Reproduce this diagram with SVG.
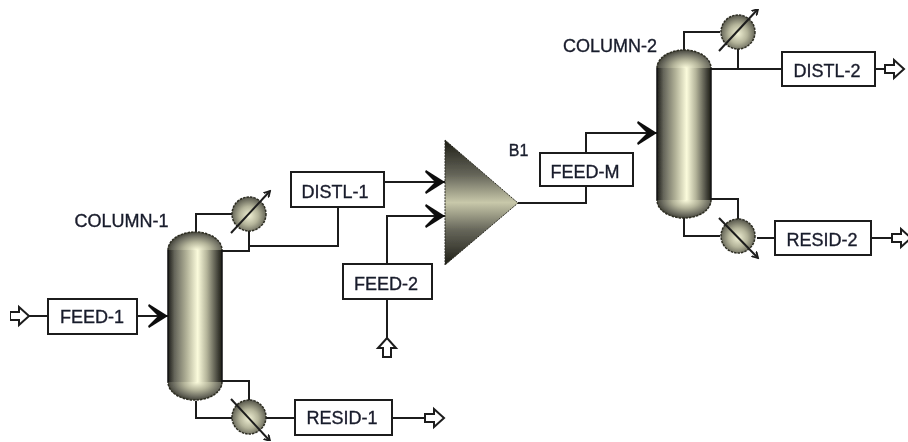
<svg xmlns="http://www.w3.org/2000/svg" xmlns:xlink="http://www.w3.org/1999/xlink" width="908" height="442" viewBox="0 0 908 442">
<style>
.c{fill:none;stroke:#1c1c1c;stroke-width:2}
.box{fill:#fff;stroke:#1c1c1c;stroke-width:2}
.t{font-family:"Liberation Sans",Arial,sans-serif;font-size:18px;fill:#1a1c2c;stroke:#1a1c2c;stroke-width:.35;text-anchor:middle}
.open{fill:#fff;stroke:#1c1c1c;stroke-width:2}
.edge{stroke:#2e2e24;stroke-width:1.500;stroke-dasharray:2.500 1}
.diag{fill:none;stroke:#1c1c1c;stroke-width:2}
</style>
<defs>
<filter id="soft" x="0" y="0" width="100%" height="100%"><feGaussianBlur stdDeviation=".45"/></filter>
<linearGradient id="body" x1="0" y1="0" x2="1" y2="0">
<stop offset="0" stop-color="#1c1c16"/><stop offset=".12" stop-color="#65655a"/><stop offset=".35" stop-color="#b4b49a"/><stop offset=".55" stop-color="#fbfbdc"/><stop offset=".72" stop-color="#b4b49a"/><stop offset=".9" stop-color="#505046"/><stop offset="1" stop-color="#1c1c16"/>
</linearGradient>
<radialGradient id="domeT" gradientUnits="userSpaceOnUse" cx="0" cy="0" r="1" gradientTransform="translate(29 18) scale(29 18)">
<stop offset="0" stop-color="#fbfbdc"/><stop offset=".45" stop-color="#b4b49a"/><stop offset=".85" stop-color="#65655a"/><stop offset="1" stop-color="#45453a"/>
</radialGradient>
<radialGradient id="domeB" gradientUnits="userSpaceOnUse" cx="0" cy="0" r="1" gradientTransform="translate(29 150) scale(29 18)">
<stop offset="0" stop-color="#fbfbdc"/><stop offset=".45" stop-color="#b4b49a"/><stop offset=".85" stop-color="#65655a"/><stop offset="1" stop-color="#45453a"/>
</radialGradient>
<radialGradient id="hx" cx=".5" cy=".55" r=".55">
<stop offset="0" stop-color="#f0f0d4"/><stop offset=".5" stop-color="#b4b49a"/><stop offset="1" stop-color="#55554a"/>
</radialGradient>
<linearGradient id="tri" x1="0" y1="0" x2="0" y2="1">
<stop offset="0" stop-color="#1e1e16"/><stop offset=".28" stop-color="#66665a"/><stop offset=".5" stop-color="#c8c8aa"/><stop offset=".72" stop-color="#66665a"/><stop offset="1" stop-color="#1e1e16"/>
</linearGradient>
<marker id="head" markerUnits="userSpaceOnUse" markerWidth="22" markerHeight="26" refX="20" refY="12" orient="auto">
<path d="M1 0L20 12L1 24L0 22L10 12L0 2Z" fill="#111"/>
</marker>
<marker id="headThin" markerUnits="userSpaceOnUse" markerWidth="8" markerHeight="8" refX="6" refY="4" orient="auto">
<path d="M0 .5L6 4L0 7.500" fill="none" stroke="#1c1c1c" stroke-width="1.800"/>
</marker>
<path id="openR" class="open" d="M0-4H9V-9L19 0L9 9V4H0Z"/>
<g id="column">
<path d="M0 18A27 18 0 0 1 54 18V150A27 18 0 0 1 0 150Z" fill="url(#body)"/>
<path d="M0 18A27 18 0 0 1 54 18Z" fill="url(#domeT)"/>
<path d="M0 150A27 18 0 0 0 54 150Z" fill="url(#domeB)"/>
<path d="M0 18A27 18 0 0 1 54 18M54 150A27 18 0 0 1 0 150" fill="none" class="edge"/>
<path d="M0 18V150M54 18V150" stroke="#161612" stroke-width="1.500" fill="none"/>
</g>
<g id="hxShell">
<circle r="17" fill="url(#hx)" class="edge"/>
</g>
</defs>
<g filter="url(#soft)">
<g id="connectors">
<path class="c" d="M29 316H48"/>
<path class="c" d="M137 316H168" marker-end="url(#head)"/>
<path class="c" d="M196 232V214H232"/>
<path class="c" d="M222 251H249V231"/>
<path class="c" d="M250 246H338V207"/>
<path class="c" d="M222 381H249V400"/>
<path class="c" d="M196 401V418H232"/>
<path class="c" d="M266 418H295"/>
<path class="c" d="M392 418H425"/>
<path class="c" d="M384 182H445" marker-end="url(#head)"/>
<path class="c" d="M387 264V216H445" marker-end="url(#head)"/>
<path class="c" d="M387 299V338"/>
<path class="c" d="M518 203H586V186"/>
<path class="c" d="M586 153V133H657" marker-end="url(#head)"/>
<path class="c" d="M684 50V32H720"/>
<path class="c" d="M738 49V69"/>
<path class="c" d="M711 69H782"/>
<path class="c" d="M875 69H885"/>
<path class="c" d="M711 199H738V219"/>
<path class="c" d="M684 218V236H720"/>
<path class="c" d="M757 238H775"/>
<path class="c" d="M871 238H891"/>
<use xlink:href="#openR" href="#openR" x="10" y="316"/>
<use xlink:href="#openR" href="#openR" x="425" y="418"/>
<use xlink:href="#openR" href="#openR" x="885" y="69"/>
<use xlink:href="#openR" href="#openR" x="892" y="238"/>
<use xlink:href="#openR" href="#openR" transform="translate(387 357) rotate(-90)"/>
</g>
<g id="COLUMN-1">
<use xlink:href="#column" href="#column" x="168" y="232"/>
<text class="t" x="121.500" y="227">COLUMN-1</text>
</g>
<g id="COND-1">
<use xlink:href="#hxShell" href="#hxShell" x="249" y="214"/>
<path class="diag" d="M231 233L270 191" marker-end="url(#headThin)"/>
</g>
<g id="REB-1">
<use xlink:href="#hxShell" href="#hxShell" x="249" y="417"/>
<path class="diag" d="M231 399L270 441" marker-end="url(#headThin)"/>
</g>
<g id="FEED-1">
<rect class="box" x="48" y="299" width="89" height="35"/>
<text class="t" x="92" y="323">FEED-1</text>
</g>
<g id="RESID-1">
<rect class="box" x="295" y="400" width="97" height="35"/>
<text class="t" x="342" y="424">RESID-1</text>
</g>
<g id="DISTL-1">
<rect class="box" x="291" y="172" width="93" height="35"/>
<text class="t" x="335" y="198">DISTL-1</text>
</g>
<g id="FEED-2">
<rect class="box" x="343" y="264" width="89" height="35"/>
<text class="t" x="386" y="290">FEED-2</text>
</g>
<g id="B1">
<path d="M445 140L518 203L445 265Z" fill="url(#tri)" stroke="#2a2a20" stroke-width="1" stroke-dasharray="2 1"/>
<text class="t" x="518.500" y="156" style="font-size:16px">B1</text>
</g>
<g id="FEED-M">
<rect class="box" x="540" y="153" width="93" height="33"/>
<text class="t" x="585" y="178">FEED-M</text>
</g>
<g id="COLUMN-2">
<use xlink:href="#column" href="#column" x="657" y="50"/>
<text class="t" x="610" y="52">COLUMN-2</text>
</g>
<g id="COND-2">
<use xlink:href="#hxShell" href="#hxShell" x="738" y="32"/>
<path class="diag" d="M719 51L758 9" marker-end="url(#headThin)"/>
</g>
<g id="REB-2">
<use xlink:href="#hxShell" href="#hxShell" x="738" y="236"/>
<path class="diag" d="M719 218L758 258" marker-end="url(#headThin)"/>
</g>
<g id="DISTL-2">
<rect class="box" x="782" y="52" width="93" height="34"/>
<text class="t" x="827" y="77">DISTL-2</text>
</g>
<g id="RESID-2">
<rect class="box" x="775" y="221" width="96" height="34"/>
<text class="t" x="822" y="246">RESID-2</text>
</g>
</g>
</svg>
